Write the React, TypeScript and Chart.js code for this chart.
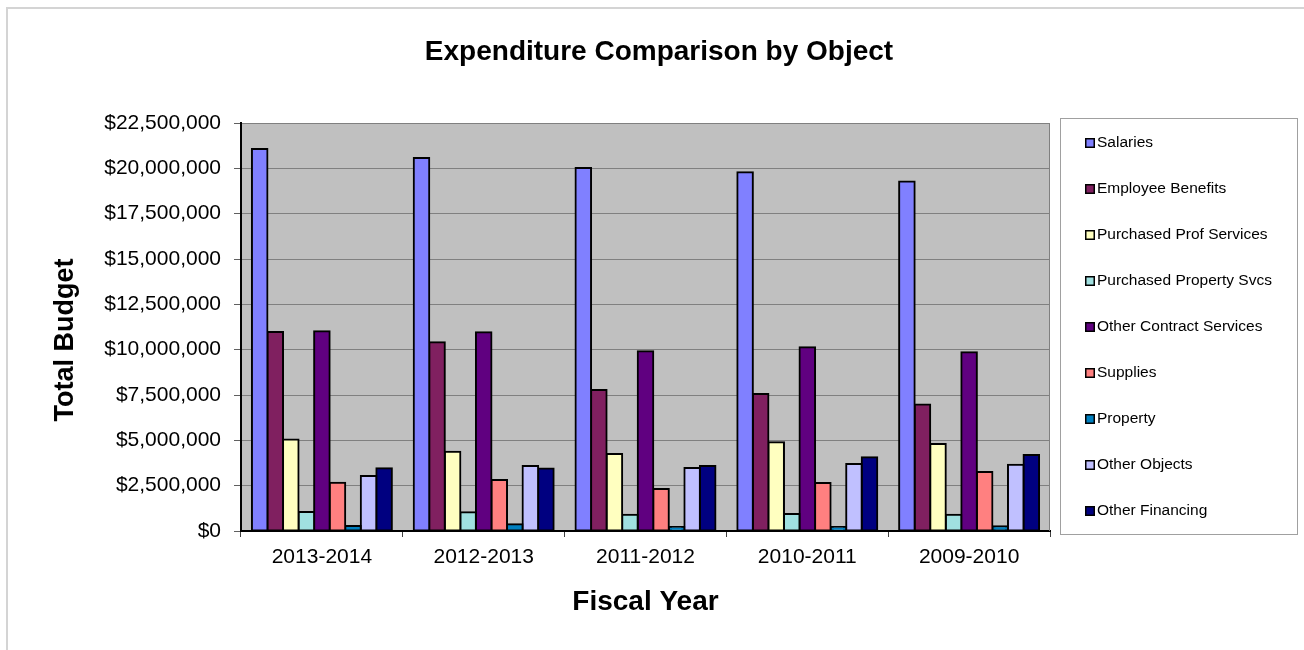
import React, { useEffect, useRef } from "react";
import { Chart, registerables } from "chart.js";

Chart.register(...registerables);

const categories = ["2013-2014", "2012-2013", "2011-2012", "2010-2011", "2009-2010"];

const seriesNames = [
  "Salaries",
  "Employee Benefits",
  "Purchased Prof Services",
  "Purchased Property Svcs",
  "Other Contract Services",
  "Supplies",
  "Property",
  "Other Objects",
  "Other Financing",
];

const salaries = [21070000, 20570000, 20020000, 19780000, 19270000];
const employeeBenefits = [10980000, 10410000, 7780000, 7560000, 6970000];
const purchasedProfServices = [5040000, 4370000, 4250000, 4890000, 4800000];
const purchasedPropertySvcs = [1050000, 1030000, 900000, 940000, 900000];
const otherContractServices = [11010000, 10960000, 9910000, 10130000, 9860000];
const supplies = [2660000, 2810000, 2320000, 2650000, 3250000];
const property = [280000, 370000, 220000, 220000, 260000];
const otherObjects = [3030000, 3590000, 3470000, 3700000, 3660000];
const otherFinancing = [3460000, 3440000, 3590000, 4070000, 4190000];

const seriesValues = [
  salaries,
  employeeBenefits,
  purchasedProfServices,
  purchasedPropertySvcs,
  otherContractServices,
  supplies,
  property,
  otherObjects,
  otherFinancing,
];

const seriesColors = [
  "#8080FF",
  "#802060",
  "#FFFFC0",
  "#A0E0E0",
  "#600080",
  "#FF8080",
  "#0080C0",
  "#C0C0FF",
  "#000080",
];

const yMin = 0;
const yMax = 22500000;
const yStep = 2500000;

const chartTitle = "Expenditure Comparison by Object";
const xTitle = "Fiscal Year";
const yTitle = "Total Budget";

const FONT = "'Liberation Sans', Arial, sans-serif";

const W = 1304;
const H = 650;

const decorPlugin = {
  id: "decor",
  beforeDraw(chart: any) {
    const { ctx, chartArea } = chart;
    ctx.save();
    ctx.fillStyle = "#ffffff";
    ctx.fillRect(0, 0, W, H);
    // outer frame
    ctx.strokeStyle = "#D4D4D4";
    ctx.lineWidth = 2;
    ctx.beginPath();
    ctx.moveTo(7, H + 5);
    ctx.lineTo(7, 8);
    ctx.lineTo(W + 5, 8);
    ctx.stroke();
    // plot background
    ctx.fillStyle = "#C0C0C0";
    ctx.fillRect(chartArea.left, chartArea.top, chartArea.right - chartArea.left, chartArea.bottom - chartArea.top);
    ctx.restore();
  },
  afterDatasetsDraw(chart: any) {
    const { ctx, chartArea } = chart;
    ctx.save();
    // right border of plot area
    ctx.strokeStyle = "#808080";
    ctx.lineWidth = 1;
    ctx.beginPath();
    ctx.moveTo(chartArea.right - 0.5, chartArea.top);
    ctx.lineTo(chartArea.right - 0.5, chartArea.bottom);
    ctx.stroke();
    ctx.restore();
  },
  afterDraw(chart: any) {
    const { ctx, chartArea } = chart;
    ctx.save();
    ctx.fillStyle = "#000";
    // main title
    ctx.font = `bold 28px ${FONT}`;
    ctx.textAlign = "center";
    ctx.textBaseline = "alphabetic";
    ctx.fillText(chartTitle, 659, 60);
    // x title
    ctx.font = `bold 28px ${FONT}`;
    ctx.fillText(xTitle, (chartArea.left + chartArea.right) / 2, 610);
    // y title
    ctx.save();
    ctx.translate(73, 340);
    ctx.rotate(-Math.PI / 2);
    ctx.font = `bold 27px ${FONT}`;
    ctx.textAlign = "center";
    ctx.textBaseline = "alphabetic";
    ctx.fillText(yTitle, 0, 0);
    ctx.restore();

    // legend
    const lx = 1060.5;
    const ly = 118.5;
    const lw = 237;
    const lh = 416;
    ctx.strokeStyle = "#A0A0A0";
    ctx.lineWidth = 1;
    ctx.strokeRect(lx, ly, lw, lh);
    const ds = chart.data.datasets;
    ctx.font = `15.5px ${FONT}`;
    ctx.textAlign = "left";
    ctx.textBaseline = "middle";
    for (let i = 0; i < ds.length; i++) {
      const cy = 143 + i * 46;
      ctx.fillStyle = ds[i].backgroundColor;
      ctx.fillRect(1085, cy - 5, 10, 10);
      ctx.strokeStyle = "#000";
      ctx.lineWidth = 1.5;
      ctx.strokeRect(1085.75, cy - 4.25, 8.5, 8.5);
      ctx.fillStyle = "#000";
      ctx.fillText(ds[i].label, 1097, cy);
    }
    ctx.restore();
  },
};

export default function App() {
  const ref = useRef<HTMLCanvasElement | null>(null);

  useEffect(() => {
    if (!ref.current) return;
    const chart = new Chart(ref.current, {
      type: "bar",
      data: {
        labels: categories,
        datasets: seriesNames.map((name, i) => ({
          label: name,
          data: seriesValues[i],
          backgroundColor: seriesColors[i],
          borderColor: "#000000",
          borderWidth: 2,
          borderSkipped: false,
          inflateAmount: 1,
          categoryPercentage: 0.865,
          barPercentage: 1.0,
        })),
      },
      options: {
        responsive: false,
        animation: false,
        devicePixelRatio: 1,
        layout: { padding: { top: 123, right: 254, bottom: 0, left: 0 } },
        plugins: {
          legend: { display: false },
          title: { display: false },
          tooltip: { enabled: false },
        },
        scales: {
          x: {
            offset: true,
            grid: {
              offset: true,
              drawOnChartArea: false,
              drawTicks: true,
              tickLength: 6,
              tickColor: "#404040",
              lineWidth: 1,
            },
            border: { color: "#000000", width: 2 },
            ticks: {
              color: "#000",
              font: { family: FONT, size: 21 },
              padding: 8,
              maxRotation: 0,
            },
            afterFit(scale: any) {
              scale.height = 119;
            },
          },
          y: {
            min: yMin,
            max: yMax,
            grid: {
              color: "#808080",
              lineWidth: 1,
              drawTicks: true,
              tickLength: 7,
              tickColor: "#606060",
            },
            border: { color: "#000000", width: 2 },
            ticks: {
              stepSize: yStep,
              color: "#000",
              font: { family: FONT, size: 21 },
              padding: 13,
              callback: (v: any) => "$" + Number(v).toLocaleString("en-US"),
            },
            afterFit(scale: any) {
              scale.width = 241;
            },
          },
        },
      },
      plugins: [decorPlugin],
    });
    return () => chart.destroy();
  }, []);

  return (
    <div style={{ position: "absolute", left: 0, top: 0, width: W, height: H, overflow: "hidden" }}>
      <canvas ref={ref} width={W} height={H} style={{ width: W, height: H, display: "block" }} />
    </div>
  );
}
